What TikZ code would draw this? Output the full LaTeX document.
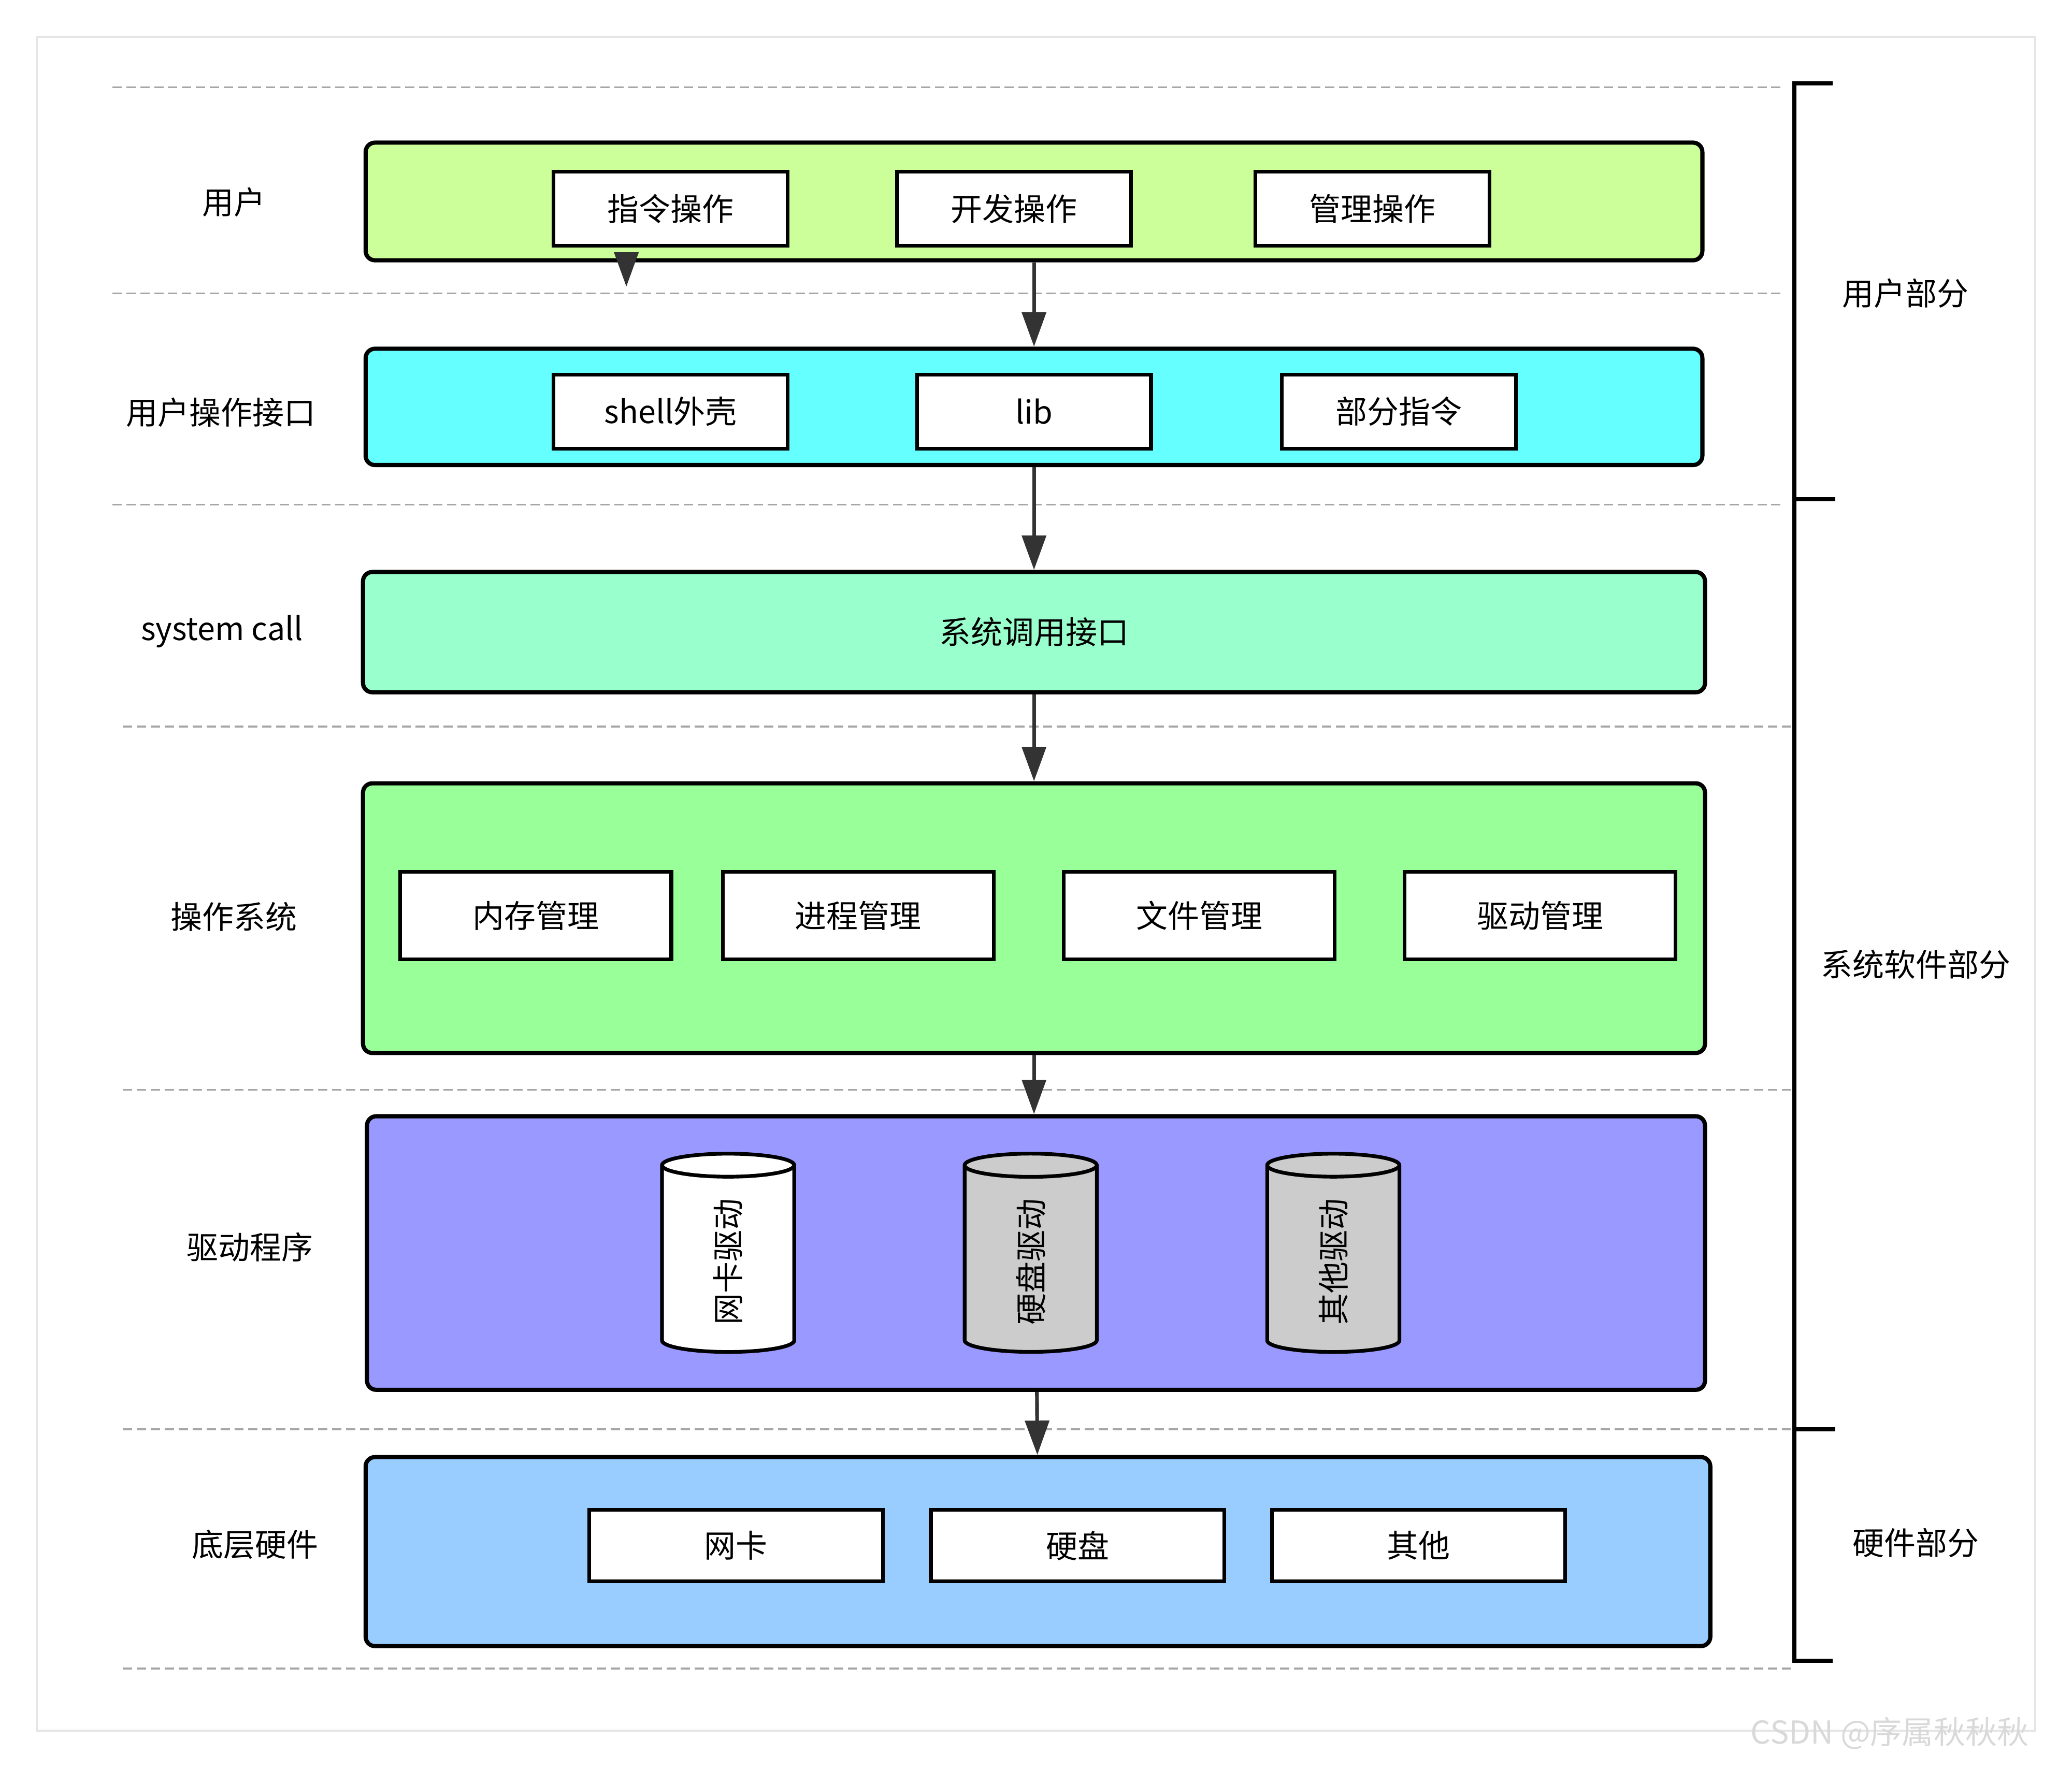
\documentclass[tikz,border=0pt]{standalone}
\usepackage{fontspec}
\setmainfont{Noto Sans CJK SC}
\usetikzlibrary{shapes.geometric,arrows.meta,positioning}
\definecolor{lyuser}{HTML}{CCFF99}
\definecolor{lyshell}{HTML}{66FFFF}
\definecolor{lycall}{HTML}{99FFCC}
\definecolor{lyos}{HTML}{99FF99}
\definecolor{lydrv}{HTML}{9999FF}
\definecolor{lyhw}{HTML}{99CCFF}
\definecolor{lnk}{HTML}{333333}
\begin{document}
\begin{tikzpicture}[x=0.01cm,y=-0.01cm,
  layer/.style={draw=black, fill=#1, rounded corners=2pt, line width=0.9pt},
  box/.style={draw=black, fill=white, line width=0.8pt, font=\fontsize{6.8}{8}\selectfont,
    minimum width=#1, inner sep=0pt},
  drum/.style={cylinder, draw=black, fill=#1, line width=0.8pt, rotate=90, aspect=0.6,
    minimum width=1.0cm, minimum height=1.5cm, inner sep=1pt, font=\fontsize{6.8}{8}\selectfont},
  lbl/.style={font=\fontsize{6.8}{8}\selectfont},
  sep/.style={dashed, gray!70, line width=0.4pt, dash pattern=on 2pt off 1pt},
  arr/.style={-{Triangle[length=2.6mm,width=1.8mm]}, lnk, line width=0.8pt},
  brk/.style={black, line width=0.9pt}
]
  \useasboundingbox (0,0) rectangle (1568,1339);
  \draw[gray!20, fill=white] (28,28) rectangle (1540,1310);

  % dashed separators
  \draw[sep] (85,66) -- (1350,66);
  \draw[sep] (85,222) -- (1350,222);
  \draw[sep] (85,382) -- (1350,382);
  \draw[sep] (93,550) -- (1355,550);
  \draw[sep] (93,825) -- (1355,825);
  \draw[sep] (93,1082) -- (1355,1082);
  \draw[sep] (93,1263) -- (1355,1263);

  % layers
  \node[layer=lyuser, minimum width=10.11cm, minimum height=0.89cm] (user) at (782.5,152.5) {};
  \node[layer=lyshell, minimum width=10.11cm, minimum height=0.88cm] (shell) at (782.5,308) {};
  \node[layer=lycall, minimum width=10.15cm, minimum height=0.91cm, lbl] (call) at (782.5,478.5) {系统调用接口};
  \node[layer=lyos, minimum width=10.15cm, minimum height=2.04cm] (os) at (782.5,695) {};
  \node[layer=lydrv, minimum width=10.12cm, minimum height=2.07cm] (drv) at (784,948.5) {};
  \node[layer=lyhw, minimum width=10.17cm, minimum height=1.43cm] (hw) at (785.5,1174.5) {};

  % user
  \node[box=1.77cm, minimum height=0.56cm] (cmd) at (507.5,158) {指令操作};
  \node[box=1.77cm, minimum height=0.56cm] (dev) at (767.5,158) {开发操作};
  \node[box=1.77cm, minimum height=0.56cm] (mgr) at (1038.5,158) {管理操作};

  % shell
  \node[box=1.77cm, minimum height=0.56cm] (sh) at (507.5,311.5) {shell外壳};
  \node[box=1.77cm, minimum height=0.56cm] (lib) at (782.5,311.5) {lib};
  \node[box=1.77cm, minimum height=0.56cm] (part) at (1058.5,311.5) {部分指令};

  % os
  \node[box=2.05cm, minimum height=0.66cm] (mem) at (405.5,693) {内存管理};
  \node[box=2.05cm, minimum height=0.66cm] (proc) at (649.5,693) {进程管理};
  \node[box=2.05cm, minimum height=0.66cm] (file) at (907.5,693) {文件管理};
  \node[box=2.05cm, minimum height=0.66cm] (dmgr) at (1165.5,693) {驱动管理};

  % drivers
  \node[drum=white] (nicd) at (551,955) {网卡驱动};
  \node[drum=gray!40] (hddd) at (780,955) {硬盘驱动};
  \node[drum=gray!40] (othd) at (1009,955) {其他驱动};

  % hardware
  \node[box=2.22cm, minimum height=0.54cm] (nic) at (557,1170) {网卡};
  \node[box=2.22cm, minimum height=0.54cm] (hdd) at (815.5,1170) {硬盘};
  \node[box=2.22cm, minimum height=0.54cm] (oth) at (1073.5,1170) {其他};

  % left labels
  \node[lbl] at (177,153) {用户};
  \node[lbl] at (167,312) {用户操作接口};
  \node[lbl] at (168,478) {system call};
  \node[lbl] at (177,694) {操作系统};
  \node[lbl] at (189,944) {驱动程序};
  \node[lbl] at (193,1169) {底层硬件};

  % arrows
  \coordinate (tip) at (474,217);
  \draw[arr] (user.south -| tip) -- (tip);
  \draw[arr] (user) -- (shell);
  \draw[arr] (shell) -- (call);
  \draw[arr] (call) -- (os);
  \draw[arr] (os.south) -- (os.south |- drv.north);
  \draw[arr] (drv) -- (hw);

  % right bracket
  \coordinate (b1) at (1358,63);
  \coordinate (b2) at (1358,378);
  \coordinate (b3) at (1358,1082);
  \coordinate (b4) at (1358,1257);
  \draw[brk] (1387,63) -- (b1) -- (b4) -- (1387,1257);
  \draw[brk] (b2) -- (1389,378);
  \draw[brk] (b3) -- (1389,1082);
  \node[lbl] at (1442,222) {用户部分};
  \node[lbl] at (1450,730) {系统软件部分};
  \node[lbl] at (1450,1168) {硬件部分};

  \node[lbl, gray!30] at (1430,1312) {CSDN @序属秋秋秋};
\end{tikzpicture}
\end{document}
